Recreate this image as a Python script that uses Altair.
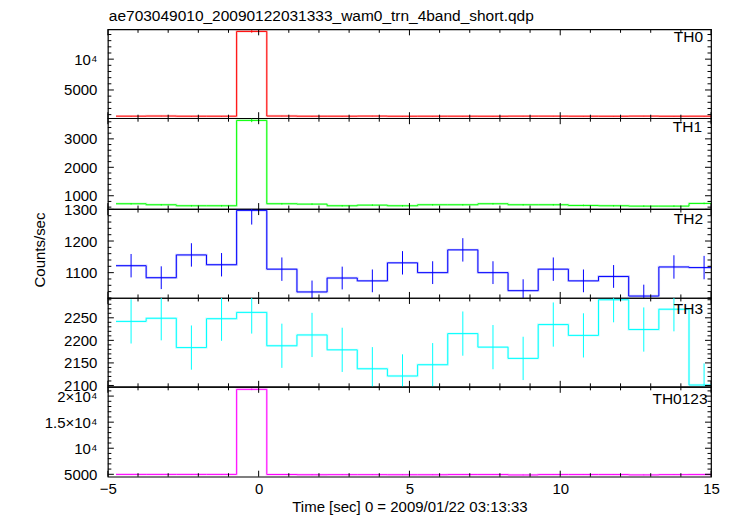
import altair as alt
import pandas as pd

TITLE = "ae703049010_20090122031333_wam0_trn_4band_short.qdp"
X_TITLE = "Time [sec] 0 = 2009/01/22 03:13:33"
Y_TITLE = "Counts/sec"

BIN_CENTERS = [-4.23, -3.23, -2.23, -1.23, -0.23, 0.77, 1.77, 2.77, 3.77, 4.77,
               5.77, 6.77, 7.77, 8.77, 9.77, 10.77, 11.77, 12.77, 13.77, 14.77]
BIN_WIDTH = 1.0

NAMES = ["TH0", "TH1", "TH2", "TH3", "TH0123"]
COLORS = ["#ff0000", "#00ff00", "#0000ff", "#00ffff", "#ff00ff"]

TH0 = [750, 770, 745, 745, 14500, 770, 745, 745, 765, 740, 745, 745, 740, 755, 755, 745, 740, 760, 740, 745]
TH0_ERR = [28, 28, 27, 27, 200, 28, 27, 27, 28, 27, 27, 27, 27, 28, 28, 27, 27, 28, 27, 27]
TH1 = [718, 682, 647, 647, 3650, 718, 706, 647, 670, 647, 682, 682, 718, 682, 682, 659, 647, 635, 635, 730]
TH1_ERR = [27, 26, 26, 26, 62, 27, 27, 26, 26, 26, 26, 26, 27, 26, 26, 26, 26, 25, 25, 27]
TH2 = [1122, 1084, 1156, 1125, 1297, 1111, 1039, 1083, 1074, 1131, 1100, 1172, 1100, 1043, 1111, 1074, 1088, 1026, 1118, 1116]
TH2_ERR = [37, 36, 37, 37, 45, 37, 36, 36, 36, 37, 36, 37, 36, 36, 37, 36, 36, 36, 37, 37]
TH3 = [2242, 2249, 2184, 2248, 2262, 2188, 2212, 2179, 2137, 2121, 2146, 2215, 2185, 2160, 2235, 2211, 2290, 2224, 2269, 2101]
TH3_ERR = [49, 49, 49, 49, 47, 49, 49, 49, 48, 48, 48, 49, 49, 48, 49, 49, 50, 49, 49, 48]
TH0123 = [4980, 4980, 4980, 4980, 21300, 4960, 4920, 4930, 4930, 4920, 4920, 4950, 4950, 4880, 4950, 4950, 4950, 4890, 4940, 4950]
TH0123_ERR = [72, 72, 72, 72, 150, 72, 71, 71, 71, 71, 71, 72, 72, 71, 72, 72, 72, 71, 72, 72]

SERIES = [TH0, TH1, TH2, TH3, TH0123]
ERRORS = [TH0_ERR, TH1_ERR, TH2_ERR, TH3_ERR, TH0123_ERR]

Y_DOMAINS = [[420, 14840], [531, 3727], [1020, 1301], [2097, 2294], [4540, 21780]]
Y_MAJOR = [[5000, 10000], [1000, 2000, 3000], [1100, 1200, 1300],
           [2100, 2150, 2200, 2250], [5000, 10000, 15000, 20000]]
Y_MINOR_STEP = [1000, 200, 20, 10, 1000]
Y_LABEL_EXPR = [
    "datum.value == 10000 ? '10\u2074' : format(datum.value, 'd')",
    "format(datum.value, 'd')",
    "format(datum.value, 'd')",
    "format(datum.value, 'd')",
    "datum.value == 20000 ? '2\u00d710\u2074' : datum.value == 15000 ? '1.5\u00d710\u2074' : "
    "datum.value == 10000 ? '10\u2074' : format(datum.value, 'd')",
]
X_MAJOR = [-5, 0, 5, 10, 15]
X_MINOR = [-4, -3, -2, -1, 1, 2, 3, 4, 6, 7, 8, 9, 11, 12, 13, 14]

W = 604
HEIGHTS = [89, 91, 89, 89, 90]
LABEL_POS = [(8, 1), (9, 2.2), (8, 3.3), (8, 3.9), (3.5, 4.9)]
FONT = "Liberation Sans"
MAJ = 6
MIN = 3.5

xscale = alt.Scale(domain=[-5, 15], nice=False, zero=False)


def make_panel(i):
    H = HEIGHTS[i]
    vals = SERIES[i]
    errs = ERRORS[i]
    color = COLORS[i]
    lo, hi = Y_DOMAINS[i]
    yscale = alt.Scale(domain=Y_DOMAINS[i], nice=False, zero=False)

    edges = [c - BIN_WIDTH / 2 for c in BIN_CENTERS]
    step_df = pd.DataFrame({"t": edges + [BIN_CENTERS[-1] + BIN_WIDTH / 2],
                            "v": vals + [vals[-1]]})
    err_df = pd.DataFrame({"t": BIN_CENTERS,
                           "v": [v - e for v, e in zip(vals, errs)],
                           "hi": [v + e for v, e in zip(vals, errs)]})

    if i == 4:
        xaxis = alt.Axis(values=X_MAJOR, labelFlush=False, ticks=False, domain=False,
                         grid=False, title=X_TITLE, labelFontSize=15, titleFontSize=15,
                         labelPadding=5, titlePadding=3, labelFont=FONT, titleFont=FONT,
                         titleFontWeight="normal", labelColor="black", titleColor="black")
    else:
        xaxis = None

    ykw = dict(values=Y_MAJOR[i], labelExpr=Y_LABEL_EXPR[i], ticks=False, domain=False,
               grid=False, labelFlush=False, labelPadding=11, labelFontSize=15,
               labelFont=FONT, labelColor="black", labelOverlap=False)
    if i == 2:
        ykw.update(title=Y_TITLE, titleX=-63, titleY=H / 2 - 4, titleAngle=270,
                   titleBaseline="alphabetic", titleAlign="center", titleFontSize=15,
                   titleFont=FONT, titleFontWeight="normal", titleColor="black")
    else:
        ykw.update(title=None)
    yaxis = alt.Axis(**ykw)

    def X(field):
        return alt.X(field, type="quantitative", scale=xscale, axis=xaxis)

    def Y(field):
        return alt.Y(field, type="quantitative", scale=yscale, axis=yaxis)

    line = alt.Chart(step_df).mark_line(interpolate="step-after", color=color,
                                        strokeWidth=1, clip=True).encode(x=X("t"), y=Y("v"))
    halo = alt.Chart(step_df).mark_line(interpolate="step-after", color=color,
                                        strokeWidth=2.4, opacity=0.2, clip=True).encode(
        x=X("t"), y=Y("v"))
    ebar = alt.Chart(err_df).mark_rule(color=color, strokeWidth=1, clip=True).encode(
        x=X("t"), y=Y("v"), y2="hi:Q")

    ymin = [v for v in range(int(lo // Y_MINOR_STEP[i]) * Y_MINOR_STEP[i], int(hi) + 1, Y_MINOR_STEP[i])
            if lo <= v <= hi and v not in Y_MAJOR[i]]
    ymaj_df = pd.DataFrame({"v": Y_MAJOR[i]})
    ymin_df = pd.DataFrame({"v": ymin})
    xmaj_df = pd.DataFrame({"t": X_MAJOR})
    xmin_df = pd.DataFrame({"t": X_MINOR})

    layers = []
    for df, ln in ((ymaj_df, MAJ), (ymin_df, MIN)):
        layers.append(alt.Chart(df).mark_rule(color="black", strokeWidth=1).encode(
            y=Y("v"), x=alt.value(0), x2=alt.value(ln)))
        layers.append(alt.Chart(df).mark_rule(color="black", strokeWidth=1).encode(
            y=Y("v"), x=alt.value(W - ln), x2=alt.value(W)))
    for df, ln in ((xmaj_df, MAJ), (xmin_df, MIN)):
        layers.append(alt.Chart(df).mark_rule(color="black", strokeWidth=1).encode(
            x=X("t"), y=alt.value(0), y2=alt.value(ln)))
        layers.append(alt.Chart(df).mark_rule(color="black", strokeWidth=1).encode(
            x=X("t"), y=alt.value(H - ln), y2=alt.value(H)))

    dx, dy = LABEL_POS[i]
    label = alt.Chart(pd.DataFrame({"name": [NAMES[i]]})).mark_text(
        align="right", baseline="top", fontSize=15.5, font=FONT, color="black").encode(
        text="name:N", x=alt.value(W - dx), y=alt.value(dy))
    extra = [label]
    if i == 0:
        extra.append(alt.Chart(pd.DataFrame({"name": [TITLE]})).mark_text(
            align="left", baseline="alphabetic", fontSize=15.5, font=FONT, color="black").encode(
            text="name:N", x=alt.value(1), y=alt.value(-8)))

    return alt.layer(line, halo, ebar, *layers, *extra).properties(width=W, height=H)


panels = [make_panel(i) for i in range(5)]
chart = alt.vconcat(*panels, spacing=0, bounds="flush").properties(
    padding={"left": 24, "top": 0, "right": 5, "bottom": 0}
).configure_view(stroke="black", strokeWidth=1.2)

chart.save("out.html", embed_options={"renderer": "svg", "actions": False})
